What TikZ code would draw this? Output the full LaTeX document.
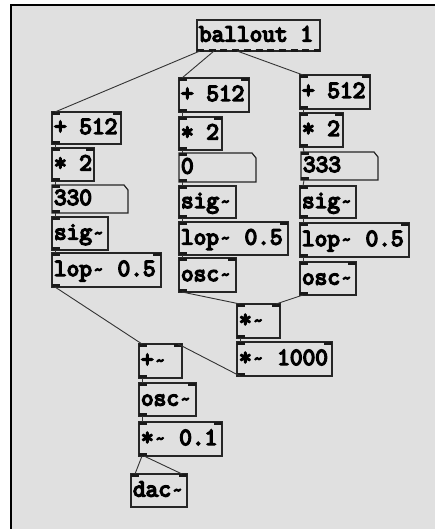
\documentclass[tikz,border=0pt]{standalone}
\usepackage{fontspec}
\newfontfamily\pdfont{Latin Modern Mono}[FakeBold=6]
\definecolor{pdbg}{RGB}{224,224,224}
\newcommand\pdtl{\makebox[0.525em][c]{\fontsize{19}{19}\selectfont\raisebox{0.5pt}{\textasciitilde}}}
\tikzset{
  pdbox/.style={anchor=north west, inner sep=0pt, outer sep=0pt},
  pdtext/.style={anchor=base west, inner sep=0pt, outer sep=0pt,
    font=\pdfont\fontsize{24.6}{26}\selectfont, text=black},
  pdline/.style={draw=black!85, line width=1.2pt},
  port/.style={fill=black!90},
  conn/.style={draw=black!80, line width=0.9pt},
}
\newcommand\pdobj[6]{%
  \pgfmathsetmacro\pdw{#4-#2}\pgfmathsetmacro\pdh{#5-#3}%
  \node[pdbox,pdline,minimum width=\pdw pt,minimum height=\pdh pt] (#1) at (#2,#3) {};
  \node[pdtext] (#1t) at ([xshift=2pt,yshift=-6pt]#1.west) {#6};}
\newcommand\pdmsg[6]{%
  \pgfmathsetmacro\pdw{#4-#2}\pgfmathsetmacro\pdh{#5-#3}%
  \node[pdbox,minimum width=\pdw pt,minimum height=\pdh pt] (#1) at (#2,#3) {};
  \node[pdtext] (#1t) at ([xshift=2pt,yshift=-6pt]#1.west) {#6};
  \draw[pdline] (#1.north west) -- ([xshift=-4pt]#1.north east) -- ([yshift=-5pt]#1.north east)
    -- (#1.south east) -- (#1.south west) -- cycle;}
\newcommand\inl[1]{\fill[port] (#1.north west) rectangle ++(8,3);}
\newcommand\inr[1]{\fill[port] (#1.north east) rectangle ++(-8,3);}
\newcommand\outl[1]{\fill[port] (#1.south west) rectangle ++(8,-3);}
\newcommand\wire[2]{\draw[conn] ([xshift=3pt]#1.south west) -- ([xshift=3pt]#2.north west);}
\begin{document}
\begin{tikzpicture}[x=1pt,y=-1pt]
\useasboundingbox (0,0) rectangle (435,529);
\fill[white] (0,0) rectangle (435,529);
\fill[pdbg] (11,5) rectangle (435,529);
\draw[line width=2pt,black] (11,529) -- (11,5) -- (435,5);

% ballout
\pdobj{ball}{197}{20}{320}{51}{ballout 1}
\draw[line width=3pt,black!90,dash pattern=on 7pt off 4.7pt] (ball.south west) -- (ball.south east);
\coordinate (o0) at ([xshift=3pt]ball.south west);
\coordinate (o1) at ([xshift=17pt]ball.south west);
\coordinate (o2) at ([xshift=40pt]ball.south west);

% left column
\pdobj{pL}{52}{112}{121}{144}{+ 512}
\pdobj{mL}{52}{148}{94}{181}{* 2}
\pdmsg{gL}{52}{185}{128}{213}{330}
\pdobj{sL}{52}{217}{108}{250}{sig\pdtl}
\pdobj{lL}{52}{253}{161}{287}{lop\pdtl{} 0.5}

% middle column
\pdobj{pM}{179}{78}{249}{112}{+ 512}
\pdobj{mM}{179}{117}{222}{150}{* 2}
\pdmsg{gM}{179}{153}{256}{182}{0}
\pdobj{sM}{179}{186}{236}{218}{sig\pdtl}
\pdobj{lM}{179}{222}{288}{255}{lop\pdtl{} 0.5}
\pdobj{oM}{179}{258}{236}{292}{osc\pdtl}

% right column
\pdobj{pR}{300}{75}{370}{109}{+ 512}
\pdobj{mR}{300}{113}{343}{147}{* 2}
\pdmsg{gR}{301}{152}{378}{180}{333}
\pdobj{sR}{300}{186}{356}{218}{sig\pdtl}
\pdobj{lR}{300}{223}{409}{257}{lop\pdtl{} 0.5}
\pdobj{oR}{300}{262}{356}{295}{osc\pdtl}

% mixing
\pdobj{mul}{237}{304}{280}{338}{*\pdtl}
\pdobj{mk}{237}{342}{332}{376}{*\pdtl{} 1000}
\pdobj{add}{139}{344}{182}{378}{+\pdtl}
\pdobj{oB}{139}{383}{196}{416}{osc\pdtl}
\pdobj{vol}{139}{422}{222}{456}{*\pdtl{} 0.1}
\pdobj{dac}{131}{474}{187}{507}{dac\pdtl}

% ports
\foreach \n in {pL,mL,gL,sL,lL,pM,mM,gM,sM,lM,oM,pR,mR,gR,sR,lR,oR,mul,mk,add,oB,vol,dac} {\inl{\n}}
\foreach \n in {pL,mL,lL,pM,mM,lM,oM,pR,mR,lR,oR,mul,mk,add,oB,vol,dac} {\inr{\n}}
\foreach \n in {pL,mL,gL,sL,lL,pM,mM,gM,sM,lM,oM,pR,mR,gR,sR,lR,oR,mul,mk,add,oB,vol} {\outl{\n}}

% connections
\draw[conn] (o0) -- ([xshift=3pt]pL.north west);
\draw[conn] (o1) -- ([xshift=3pt]pM.north west);
\draw[conn] (o2) -- ([xshift=3pt]pR.north west);
\wire{pL}{mL}\wire{mL}{gL}\wire{gL}{sL}\wire{sL}{lL}
\wire{pM}{mM}\wire{mM}{gM}\wire{gM}{sM}\wire{sM}{lM}\wire{lM}{oM}
\wire{pR}{mR}\wire{mR}{gR}\wire{gR}{sR}\wire{sR}{lR}\wire{lR}{oR}
\wire{lL}{add}
\wire{oM}{mul}
\draw[conn] ([xshift=3pt]oR.south west) -- ([xshift=-4pt]mul.north east);
\wire{mul}{mk}
\draw[conn] ([xshift=3pt]mk.south west) -- ([xshift=-4pt]add.north east);
\wire{add}{oB}
\wire{oB}{vol}
\draw[conn] ([xshift=3pt]vol.south west) -- ([xshift=4pt]dac.north west);
\draw[conn] ([xshift=5pt]vol.south west) -- ([xshift=-5pt]dac.north east);
\end{tikzpicture}
\end{document}
